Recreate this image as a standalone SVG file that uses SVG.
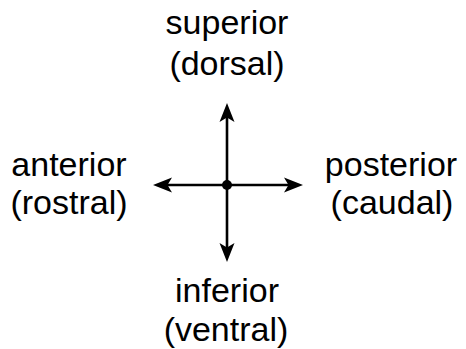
<svg xmlns="http://www.w3.org/2000/svg" width="466" height="349" viewBox="0 0 466 349">
  <style>
    .lbl { font-family: "Liberation Sans", Arial, Helvetica, sans-serif; font-size: 34px; fill: #000; text-anchor: middle; }
    .ax { stroke: #000; stroke-width: 2.6; fill: none; }
  </style>
  <defs>
    <marker id="ah" viewBox="-20 -8 21 16" markerWidth="21" markerHeight="16" refX="-10" refY="0" orient="auto" markerUnits="userSpaceOnUse">
      <path d="M0,0 L-19,-7.5 L-14.5,0 L-19,7.5 Z" fill="#000"/>
    </marker>
  </defs>
  <g id="connectors">
    <line class="ax" x1="227" y1="185" x2="227" y2="113" marker-end="url(#ah)"/>
    <line class="ax" x1="227" y1="185" x2="227" y2="252" marker-end="url(#ah)"/>
    <line class="ax" x1="227" y1="185" x2="163" y2="185" marker-end="url(#ah)"/>
    <line class="ax" x1="227" y1="185" x2="293" y2="185" marker-end="url(#ah)"/>
  </g>
  <g id="center">
    <circle cx="227" cy="185" r="5" fill="#000"/>
  </g>
  <g id="superior">
    <text class="lbl" x="227" y="34">superior</text>
    <text class="lbl" x="227" y="75">(dorsal)</text>
  </g>
  <g id="anterior">
    <text class="lbl" x="69" y="176">anterior</text>
    <text class="lbl" x="69" y="214">(rostral)</text>
  </g>
  <g id="posterior">
    <text class="lbl" x="391" y="176">posterior</text>
    <text class="lbl" x="392" y="214">(caudal)</text>
  </g>
  <g id="inferior">
    <text class="lbl" x="227" y="302">inferior</text>
    <text class="lbl" x="226" y="341">(ventral)</text>
  </g>
</svg>
